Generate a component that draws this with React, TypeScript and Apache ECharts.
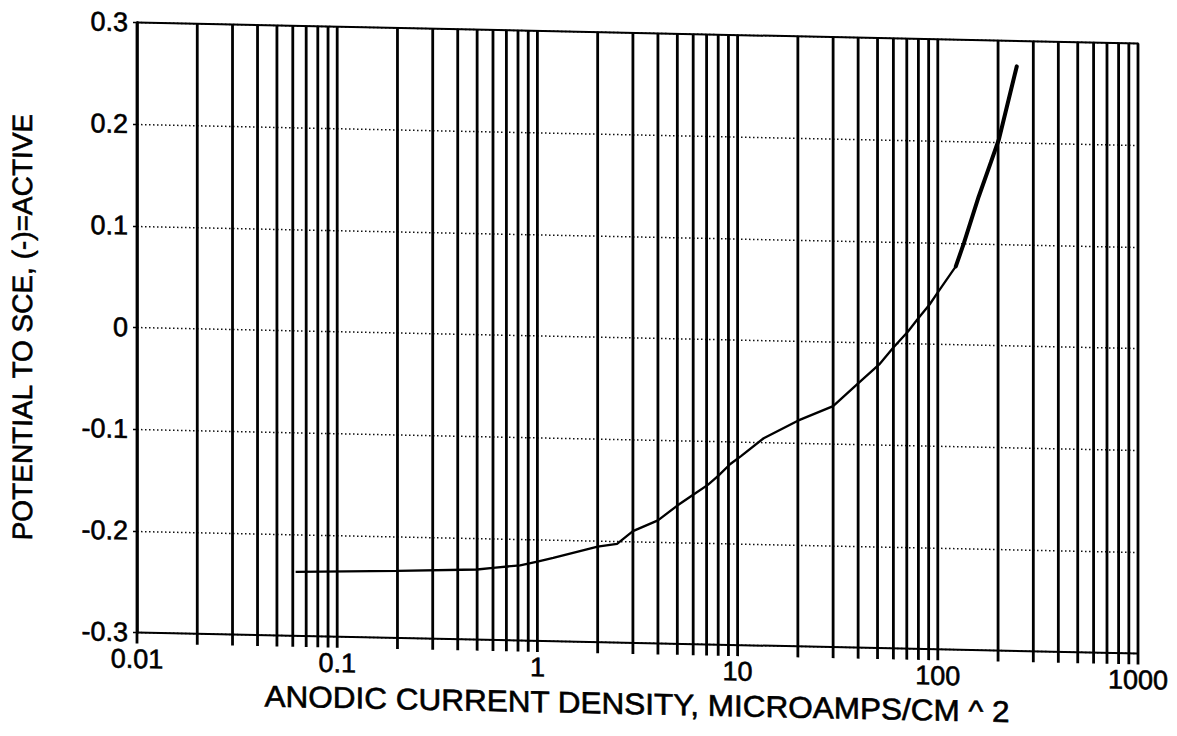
import React, { useEffect, useRef } from "react";
import * as echarts from "echarts";

// Anodic polarization curve: current density (log scale) vs. potential to SCE
const lowerCurrent = [
  0.062, 0.2, 0.5, 0.6, 0.82, 1.0, 1.2, 2.0, 2.5, 3.0, 4.0, 5.0, 6.0, 7.1, 8.0,
  9.2, 10.4, 13.5, 20, 30, 40, 51, 60, 71, 79, 91, 100, 123,
];
const lowerPotential = [
  -0.237, -0.234, -0.231, -0.229, -0.226, -0.222, -0.218, -0.206, -0.203, -0.19,
  -0.179, -0.164, -0.153, -0.143, -0.134, -0.122, -0.114, -0.096, -0.078, -0.063,
  -0.04, -0.021, -0.004, 0.012, 0.024, 0.039, 0.051, 0.077,
];
const upperCurrent = [123, 135, 160, 184, 202, 248];
const upperPotential = [0.077, 0.1, 0.146, 0.18, 0.203, 0.275];

// Axis ranges and tick labels
const X_MIN = 0.01;
const X_MAX = 1000;
const Y_MIN = -0.3;
const Y_MAX = 0.3;
const xTickLabels = ["0.01", "0.1", "1", "10", "100", "1000"];

// Solid vertical rulings at every 1..9 x 10^k
const decades = [0.01, 0.1, 1, 10, 100];
const multipliers = [1, 2, 3, 4, 5, 6, 7, 8, 9];
const rulingValues = [
  ...decades.flatMap((d) => multipliers.map((m) => Number((d * m).toPrecision(3)))),
  1000,
];

const FONT = '"Liberation Sans", Arial, Helvetica, sans-serif';

export default function App() {
  const ref = useRef<HTMLDivElement>(null);

  useEffect(() => {
    if (!ref.current) return;
    const chart = echarts.init(ref.current, null, { renderer: "svg" });

    const formatX = (v: number) => {
      const s = String(Number(v.toPrecision(6)));
      return xTickLabels.includes(s) ? s : "";
    };
    const formatY = (v: number) => {
      const r = Math.round(v * 10) / 10;
      return r === 0 ? "0" : r.toFixed(1);
    };

    const heavyText = { textBorderColor: "#000", textBorderWidth: 0.6 };

    chart.setOption({
      animation: false,
      backgroundColor: "#ffffff",
      grid: { left: 137, right: 39, top: 33, bottom: 93, containLabel: false },
      xAxis: [
        {
          type: "log",
          logBase: 10,
          min: X_MIN,
          max: X_MAX,
          position: "bottom",
          axisLine: { show: true, onZero: false, lineStyle: { color: "#000", width: 2 } },
          axisTick: { show: false },
          splitLine: { show: false },
          minorTick: { show: false },
          axisLabel: {
            show: true,
            margin: 13,
            color: "#000",
            fontFamily: FONT,
            fontSize: 27,
            formatter: formatX,
            ...heavyText,
          },
        },
        {
          type: "log",
          logBase: 10,
          min: X_MIN,
          max: X_MAX,
          position: "top",
          axisLine: { show: true, onZero: false, lineStyle: { color: "#000", width: 2 } },
          axisTick: { show: false },
          axisLabel: { show: false },
          splitLine: { show: false },
        },
      ],
      yAxis: {
        type: "value",
        min: Y_MIN,
        max: Y_MAX,
        interval: 0.1,
        axisLine: { show: true, onZero: false, lineStyle: { color: "#000", width: 2.5 } },
        axisTick: { show: true, length: 4, lineStyle: { color: "#000", width: 1.5 } },
        axisLabel: {
          margin: 9,
          color: "#000",
          fontFamily: FONT,
          fontSize: 27,
          formatter: formatY,
          ...heavyText,
        },
        splitLine: {
          show: true,
          lineStyle: { color: "#111", width: 1.5, type: [1.5, 2.5] },
        },
      },
      graphic: [
        {
          type: "text",
          x: 23,
          y: 340,
          rotation: Math.PI / 2,
          style: {
            text: "POTENTIAL TO SCE, (-)=ACTIVE",
            font: `28px ${FONT}`,
            fill: "#000",
            stroke: "#000",
            lineWidth: 0.6,
            align: "center",
            verticalAlign: "middle",
          },
        },
        {
          type: "text",
          x: 637,
          y: 704,
          scaleX: 1.05,
          style: {
            text: "ANODIC CURRENT DENSITY, MICROAMPS/CM ^ 2",
            font: `30px ${FONT}`,
            fill: "#000",
            stroke: "#000",
            lineWidth: 0.6,
            align: "center",
            verticalAlign: "middle",
          },
        },
      ],
      series: [
        {
          type: "custom",
          name: "rulings",
          xAxisIndex: 0,
          yAxisIndex: 0,
          silent: true,
          clip: false,
          z: 1,
          data: rulingValues.map((v) => [v, 0]),
          renderItem: (_params: any, api: any) => {
            const x = api.value(0);
            const top = api.coord([x, Y_MAX]);
            const bot = api.coord([x, Y_MIN]);
            return {
              type: "line",
              shape: { x1: top[0], y1: top[1], x2: bot[0], y2: bot[1] + 11 },
              style: { stroke: "#000", lineWidth: 2.8 },
            };
          },
        },
        {
          type: "line",
          name: "lower",
          z: 3,
          showSymbol: false,
          symbol: "none",
          data: lowerCurrent.map((c, i) => [c, lowerPotential[i]]),
          lineStyle: { color: "#000", width: 2.3 },
        },
        {
          type: "line",
          name: "upper",
          z: 3,
          showSymbol: false,
          symbol: "none",
          data: upperCurrent.map((c, i) => [c, upperPotential[i]]),
          lineStyle: { color: "#000", width: 4, cap: "round" },
        },
      ],
    });

    return () => chart.dispose();
  }, []);

  return (
    <div
      ref={ref}
      style={{
        position: "absolute",
        left: 0,
        top: 0,
        width: 1177,
        height: 736,
        background: "#fff",
        transform: "skewY(1.2deg)",
        transformOrigin: "637px 338px",
      }}
    />
  );
}
